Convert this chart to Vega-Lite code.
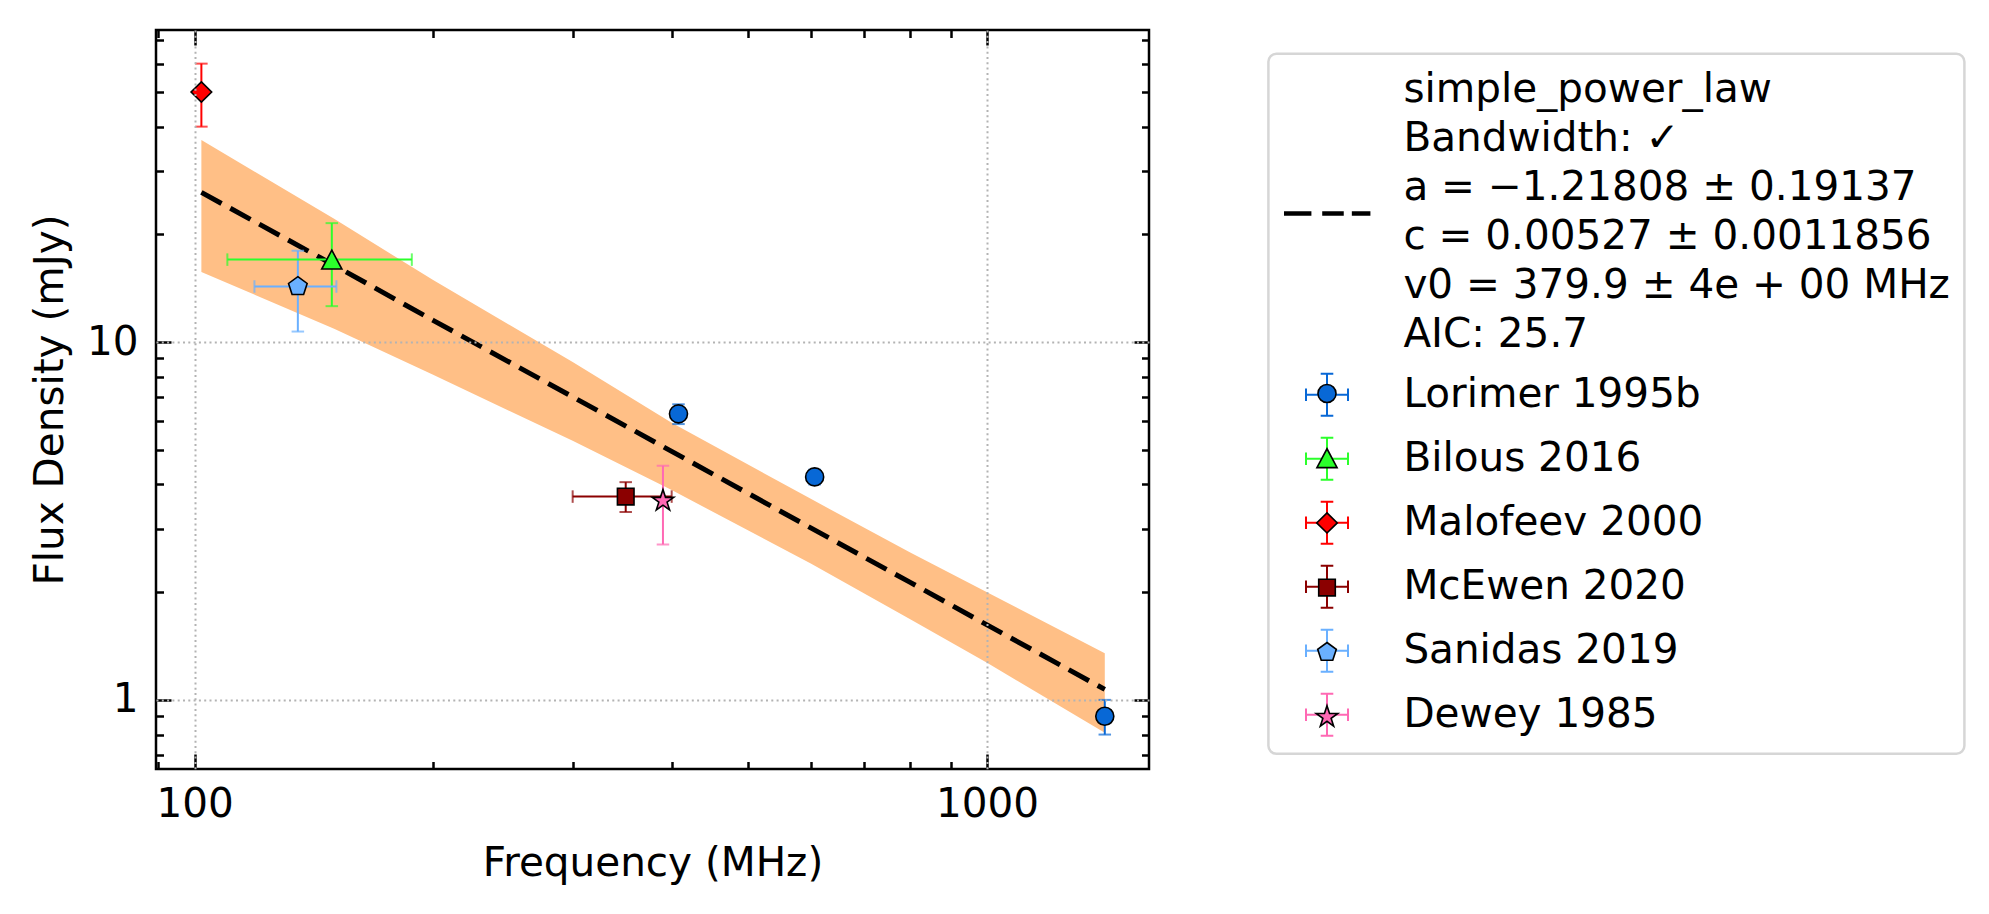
{
  "$schema": "https://vega.github.io/schema/vega-lite/v6.json",
  "width": 993,
  "height": 739,
  "autosize": {"type": "none"},
  "padding": {"left": 156, "top": 30, "right": 840, "bottom": 145},
  "background": "white",
  "config": {
    "font": "DejaVu Sans",
    "view": {"stroke": "black", "strokeWidth": 2.5},
    "axis": {
      "labelFont": "DejaVu Sans", "labelFontSize": 40.5, "labelColor": "black",
      "titleFont": "DejaVu Sans", "titleFontSize": 40.5, "titleFontWeight": "normal", "titleColor": "black",
      "domain": false, "grid": false, "tickColor": "black", "tickWidth": 2.5
    },
    "legend": {"labelFont": "DejaVu Sans", "labelFontSize": 40.5, "labelColor": "black"}
  },
  "datasets": {
    "band": [
      {"freq": 102, "lo": 15.7, "hi": 36.7},
      {"freq": 150, "lo": 10.9, "hi": 22.1},
      {"freq": 200, "lo": 8.1, "hi": 14.9},
      {"freq": 300, "lo": 5.3, "hi": 8.8},
      {"freq": 400, "lo": 3.86, "hi": 5.95},
      {"freq": 600, "lo": 2.4, "hi": 3.64},
      {"freq": 800, "lo": 1.68, "hi": 2.58},
      {"freq": 1000, "lo": 1.27, "hi": 2.0},
      {"freq": 1408, "lo": 0.81, "hi": 1.35}
    ],
    "fit": [
      {"series": "fit", "freq": 102, "flux": 26.2},
      {"series": "fit", "freq": 150, "flux": 16.4},
      {"series": "fit", "freq": 200, "flux": 11.5},
      {"series": "fit", "freq": 300, "flux": 7.03},
      {"series": "fit", "freq": 400, "flux": 4.95},
      {"series": "fit", "freq": 600, "flux": 3.02},
      {"series": "fit", "freq": 800, "flux": 2.13},
      {"series": "fit", "freq": 1000, "flux": 1.62},
      {"series": "fit", "freq": 1408, "flux": 1.07}
    ],
    "points": [
      {"series": "Lorimer 1995b", "freq": 408, "flux": 6.3, "fluxLo": 5.9, "fluxHi": 6.7, "freqLo": null, "freqHi": null},
      {"series": "Lorimer 1995b", "freq": 606, "flux": 4.2, "fluxLo": 4.0, "fluxHi": 4.4, "freqLo": null, "freqHi": null},
      {"series": "Lorimer 1995b", "freq": 1408, "flux": 0.9, "fluxLo": 0.8, "fluxHi": 1.0, "freqLo": null, "freqHi": null},
      {"series": "Bilous 2016", "freq": 149, "flux": 17.0, "fluxLo": 12.6, "fluxHi": 21.5, "freqLo": 110, "freqHi": 188},
      {"series": "Malofeev 2000", "freq": 102, "flux": 50, "fluxLo": 40, "fluxHi": 60, "freqLo": null, "freqHi": null},
      {"series": "McEwen 2020", "freq": 350, "flux": 3.7, "fluxLo": 3.35, "fluxHi": 4.06, "freqLo": 300, "freqHi": 400},
      {"series": "Sanidas 2019", "freq": 135, "flux": 14.3, "fluxLo": 10.7, "fluxHi": 18.0, "freqLo": 119, "freqHi": 151},
      {"series": "Dewey 1985", "freq": 390, "flux": 3.6, "fluxLo": 2.72, "fluxHi": 4.51, "freqLo": null, "freqHi": null}
    ]
  },
  "resolve": {"axis": {"x": "independent", "y": "independent"}},
  "layer": [
    {
      "data": {"name": "band"},
      "mark": {"type": "area", "fill": "#ffbf86", "opacity": 1},
      "encoding": {
        "x": {
          "field": "freq", "type": "quantitative",
          "scale": {"type": "log", "domain": [89.4, 1601], "nice": false},
          "axis": {
            "orient": "bottom", "values": [100, 1000], "format": "d", "ticks": false,
            "grid": true, "gridColor": "#b3b3b3", "gridWidth": 2, "gridDash": [2, 3.3],
            "labelPadding": 15.7, "labelFlush": false, "zindex": 1,
            "title": "Frequency (MHz)", "titleX": 496.5, "titleY": 106, "titleBaseline": "alphabetic"
          }
        },
        "y": {
          "field": "lo", "type": "quantitative",
          "scale": {"type": "log", "domain": [0.641, 74.5], "nice": false},
          "axis": {
            "orient": "left", "values": [1, 10], "format": "d", "ticks": false,
            "grid": true, "gridColor": "#b3b3b3", "gridWidth": 2, "gridDash": [2, 3.3],
            "labelPadding": 18, "labelFlush": false, "zindex": 1,
            "title": "Flux Density (mJy)", "titleX": -94, "titleY": 369.5, "titleAngle": -90,
            "titleAlign": "center", "titleBaseline": "alphabetic"
          }
        },
        "y2": {"field": "hi"}
      }
    },
    {
      "data": {"name": "fit"},
      "mark": {"type": "line", "strokeWidth": 5, "strokeDash": [23, 10], "strokeCap": "butt"},
      "encoding": {
        "x": {"field": "freq", "type": "quantitative",
          "axis": {"orient": "bottom", "values": [100, 1000], "labels": false, "tickSize": -15, "title": null}},
        "y": {"field": "flux", "type": "quantitative",
          "axis": {"orient": "left", "values": [1, 10], "labels": false, "tickSize": -15, "title": null}},
        "color": {
          "field": "series", "type": "nominal",
          "scale": {
            "domain": ["fit", "Lorimer 1995b", "Bilous 2016", "Malofeev 2000", "McEwen 2020", "Sanidas 2019", "Dewey 1985"],
            "range": ["#000000", "#0868d6", "#2bff2b", "#ff0000", "#8b0000", "#6ab0ff", "#ff69b4"]
          },
          "legend": {
            "title": null, "orient": "none", "legendX": 1112.4, "legendY": 23.8, "zindex": 1,
            "padding": 14, "fillColor": "white", "strokeColor": "#d6d6d6", "cornerRadius": 8,
            "symbolSize": 1764, "symbolStrokeWidth": 2, "symbolOffset": 22.6,
            "symbolType": "M-1,0H1M0,-1V1M-1,-0.3V0.3M1,-0.3V0.3M-0.3,-1H0.3M-0.3,1H0.3",
            "labelOffset": 54.4, "labelLimit": 1000, "rowPadding": 14,
            "labelExpr": "datum.value === 'fit' ? ['simple_power_law', 'Bandwidth: ✓', 'a = −1.21808 ± 0.19137', 'c = 0.00527 ± 0.0011856', 'v0 = 379.9 ± 4e + 00 MHz', 'AIC: 25.7'] : datum.label",
            "encode": {
              "legend": {"update": {"strokeWidth": {"value": 2.5}}},
              "symbols": {"update": {
                "shape": {"signal": "datum.value === 'fit' ? 'M-2,5.83H-0.79V5.95H-2ZM-0.18,5.83H0.75V5.95H-0.18ZM1.23,5.83H2.02V5.95H1.23Z' : 'M-1,0H1M0,-1V1M-1,-0.3V0.3M1,-0.3V0.3M-0.3,-1H0.3M-0.3,1H0.3'"},
                "fill": {"signal": "datum.value === 'fit' ? 'black' : 'transparent'"},
                "stroke": {"scale": "color", "field": "value"},
                "opacity": {"value": 1}
              }},
              "labels": {"update": {"lineHeight": {"value": 49}}}
            }
          }
        }
      }
    },
    {
      "data": {"name": "points"},
      "mark": {"type": "rule", "strokeWidth": 2},
      "encoding": {
        "x": {"field": "freq", "type": "quantitative",
          "axis": {"orient": "bottom", "values": [90, 200, 300, 400, 500, 600, 700, 800, 900], "labels": false, "tickSize": -7.5, "title": null}},
        "y": {"field": "fluxLo", "type": "quantitative",
          "axis": {"orient": "left", "values": [0.7, 0.8, 0.9, 2, 3, 4, 5, 6, 7, 8, 9, 20, 30, 40, 50, 60, 70], "labels": false, "tickSize": -7.5, "title": null}},
        "y2": {"field": "fluxHi"},
        "color": {"field": "series", "type": "nominal"}
      }
    },
    {
      "data": {"name": "points"},
      "mark": {"type": "tick", "orient": "horizontal", "size": 12.5, "thickness": 2},
      "encoding": {
        "x": {"field": "freq", "type": "quantitative",
          "axis": {"orient": "top", "values": [100, 1000], "labels": false, "tickSize": -15, "title": null}},
        "y": {"field": "fluxHi", "type": "quantitative",
          "axis": {"orient": "right", "values": [1, 10], "labels": false, "tickSize": -15, "title": null}},
        "color": {"field": "series", "type": "nominal"}
      }
    },
    {
      "data": {"name": "points"},
      "mark": {"type": "tick", "orient": "horizontal", "size": 12.5, "thickness": 2},
      "encoding": {
        "x": {"field": "freq", "type": "quantitative",
          "axis": {"orient": "top", "values": [90, 200, 300, 400, 500, 600, 700, 800, 900], "labels": false, "tickSize": -7.5, "title": null}},
        "y": {"field": "fluxLo", "type": "quantitative",
          "axis": {"orient": "right", "values": [0.7, 0.8, 0.9, 2, 3, 4, 5, 6, 7, 8, 9, 20, 30, 40, 50, 60, 70], "labels": false, "tickSize": -7.5, "title": null}},
        "color": {"field": "series", "type": "nominal"}
      }
    },
    {
      "data": {"name": "points"},
      "transform": [{"filter": "datum.freqLo != null"}],
      "mark": {"type": "rule", "strokeWidth": 2},
      "encoding": {
        "x": {"field": "freqLo", "type": "quantitative", "axis": null},
        "x2": {"field": "freqHi"},
        "y": {"field": "flux", "type": "quantitative", "axis": null},
        "color": {"field": "series", "type": "nominal"}
      }
    },
    {
      "data": {"name": "points"},
      "transform": [{"filter": "datum.freqLo != null"}],
      "mark": {"type": "tick", "orient": "vertical", "size": 12.5, "thickness": 2},
      "encoding": {
        "x": {"field": "freqLo", "type": "quantitative", "axis": null},
        "y": {"field": "flux", "type": "quantitative", "axis": null},
        "color": {"field": "series", "type": "nominal"}
      }
    },
    {
      "data": {"name": "points"},
      "transform": [{"filter": "datum.freqLo != null"}],
      "mark": {"type": "tick", "orient": "vertical", "size": 12.5, "thickness": 2},
      "encoding": {
        "x": {"field": "freqHi", "type": "quantitative", "axis": null},
        "y": {"field": "flux", "type": "quantitative", "axis": null},
        "color": {"field": "series", "type": "nominal"}
      }
    },
    {
      "data": {"name": "points"},
      "mark": {"type": "point", "filled": true, "size": 1764, "stroke": "black", "strokeWidth": 1.6, "opacity": 1},
      "encoding": {
        "x": {"field": "freq", "type": "quantitative", "axis": null},
        "y": {"field": "flux", "type": "quantitative", "axis": null},
        "fill": {
          "field": "series", "type": "nominal",
          "scale": {
            "domain": ["model", "Lorimer 1995b", "Bilous 2016", "Malofeev 2000", "McEwen 2020", "Sanidas 2019", "Dewey 1985"],
            "range": ["#000000", "#0868d6", "#2bff2b", "#ff0000", "#8b0000", "#6ab0ff", "#ff69b4"]
          },
          "legend": {
            "title": null, "orient": "none", "legendX": 1112.4, "legendY": 54.8, "zindex": 2,
            "padding": 14, "symbolSize": 1764, "symbolStrokeWidth": 1.6, "symbolStrokeColor": "black",
            "symbolOffset": 22.6, "labelOffset": 54.4, "labelLimit": 1000, "rowPadding": 14.7, "labelOpacity": 0,
            "labelExpr": "datum.value === 'model' ? [' ', ' ', ' ', ' ', ' ', ' '] : ' '",
            "encode": {
              "symbols": {"update": {"opacity": {"value": 1}, "stroke": {"value": "black"}}},
              "labels": {"update": {"lineHeight": {"value": 49}}}
            }
          }
        },
        "shape": {
          "field": "series", "type": "nominal",
          "scale": {
            "domain": ["model", "Lorimer 1995b", "Bilous 2016", "Malofeev 2000", "McEwen 2020", "Sanidas 2019", "Dewey 1985"],
            "range": [
              "M0,0",
              "M0.43,0A0.43,0.43,0,1,1,-0.43,0A0.43,0.43,0,1,1,0.43,0ZM0,-1.01M0,1.01",
              "M0,-0.45L0.48,0.45L-0.48,0.45ZM0,-1.01M0,1.01",
              "M0,-0.48L0.49,0L0,0.48L-0.49,0ZM0,-1.01M0,1.01",
              "M-0.395,-0.395H0.395V0.395H-0.395ZM0,-1.01M0,1.01",
              "M0,-0.467L0.444,-0.144L0.274,0.378L-0.274,0.378L-0.444,-0.144ZM0,-1.01M0,1.01",
              "M0,-0.54L0.1211,-0.1667L0.5136,-0.1669L0.1959,0.0637L0.3174,0.4369L0,0.206L-0.3174,0.4369L-0.1959,0.0637L-0.5136,-0.1669L-0.1211,-0.1667ZM0,-1.01M0,1.01"
            ]
          }
        }
      }
    }
  ]
}
